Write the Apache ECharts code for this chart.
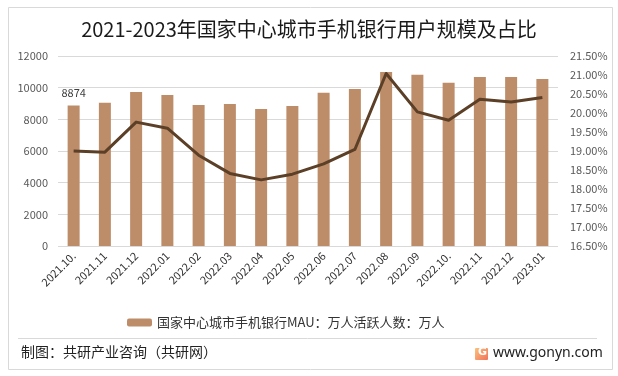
<!DOCTYPE html>
<html>
<head>
<meta charset="utf-8">
<script src="https://cdn.jsdelivr.net/npm/echarts@6/dist/echarts.min.js"></script>
<style>
  html, body { margin: 0; padding: 0; background: #fff; }
  #chart { width: 618px; height: 376px; }
</style>
</head>
<body>
<div id="chart"></div>
<script>
// 月份
var months = ['2021.10.', '2021.11', '2021.12', '2022.01', '2022.02', '2022.03', '2022.04', '2022.05',
  '2022.06', '2022.07', '2022.08', '2022.09', '2022.10.', '2022.11', '2022.12', '2023.01'];
// 手机银行MAU（万人）
var mauValues = [8874, 9050, 9726, 9537, 8905, 8968, 8652, 8842,
  9684, 9916, 10990, 10821, 10316, 10674, 10674, 10547];
// 占比（%）
var shareValues = [19.00, 18.97, 19.76, 19.60, 18.89, 18.41, 18.24, 18.39,
  18.66, 19.04, 21.04, 20.03, 19.81, 20.36, 20.29, 20.41];

var fontCn = '"Noto Sans CJK SC", "Noto Sans", sans-serif';
var myChart = echarts.init(document.getElementById('chart'));

var option = {
  backgroundColor: '#ffffff',
  textStyle: { fontFamily: fontCn },
  title: {
    text: '2021-2023年国家中心城市手机银行用户规模及占比',
    left: 'center',
    top: 14,
    textStyle: { fontSize: 20, fontWeight: 'normal', color: '#1a1a1a', fontFamily: fontCn }
  },
  legend: {
    data: ['国家中心城市手机银行MAU：万人活跃人数：万人'],
    left: 122,
    top: 311,
    itemWidth: 25,
    itemHeight: 8,
    itemGap: 4,
    textStyle: { fontSize: 13, color: '#333', fontFamily: fontCn }
  },
  grid: { left: 58, right: 60, top: 56, bottom: 130 },
  xAxis: {
    type: 'category',
    data: months,
    axisLine: { show: false },
    axisTick: { show: false },
    axisLabel: { rotate: 45, fontSize: 11, color: '#333', margin: 8, interval: 0 }
  },
  yAxis: [{
    type: 'value',
    min: 0,
    max: 12000,
    interval: 2000,
    axisLine: { show: false },
    axisTick: { show: false },
    axisLabel: { fontSize: 11, color: '#595959', margin: 10, formatter: function (v) { return String(v); } },
    splitLine: { lineStyle: { color: '#d9d9d9' } }
  }, {
    type: 'value',
    min: 16.5,
    max: 21.5,
    interval: 0.5,
    axisLine: { show: false },
    axisTick: { show: false },
    axisLabel: {
      fontSize: 11, color: '#595959', margin: 12,
      formatter: function (v) { return v.toFixed(2) + '%'; }
    },
    splitLine: { show: false }
  }],
  series: [{
    name: '国家中心城市手机银行MAU：万人活跃人数：万人',
    type: 'bar',
    data: mauValues.map(function (v, i) {
      return i === 0 ? { value: v, label: { show: true } } : v;
    }),
    barWidth: 12,
    itemStyle: { color: '#bd8d6a' },
    label: { show: false, position: 'top', distance: 7, fontSize: 11, color: '#404040' }
  }, {
    name: '占比',
    type: 'line',
    yAxisIndex: 1,
    data: shareValues,
    showSymbol: false,
    symbol: 'none',
    smooth: false,
    lineStyle: { color: '#5b3f26', width: 3, join: 'round' }
  }],
  graphic: [
    // 外框
    { type: 'rect', shape: { x: 8.5, y: 7.5, width: 604, height: 362 },
      style: { fill: 'none', stroke: '#d9d9d9', lineWidth: 1 }, silent: true },
    // 分隔线
    { type: 'line', shape: { x1: 18, y1: 338.5, x2: 597, y2: 338.5 },
      style: { stroke: '#d9d9d9', lineWidth: 1 }, silent: true },
    { type: 'text', left: 21, top: 345,
      style: { text: '制图：共研产业咨询（共研网）', fill: '#222', font: '14px ' + fontCn } },
    { type: 'rect', shape: { x: 475, y: 348, width: 13, height: 12, r: 1 },
      style: { fill: new echarts.graphic.LinearGradient(0, 0, 1, 1, [
        { offset: 0, color: '#fbc27a' }, { offset: 1, color: '#f0735c' }]) } },
    { type: 'text', left: 478, top: 347,
      style: { text: 'G', fill: '#fff', font: 'bold 11px "DejaVu Sans", sans-serif' } },
    { type: 'text', left: 493, top: 346,
      style: { text: 'www.gonyn.com', fill: '#222', font: '14px "Noto Sans", sans-serif' } }
  ]
};

myChart.setOption(option);
</script>
</body>
</html>
